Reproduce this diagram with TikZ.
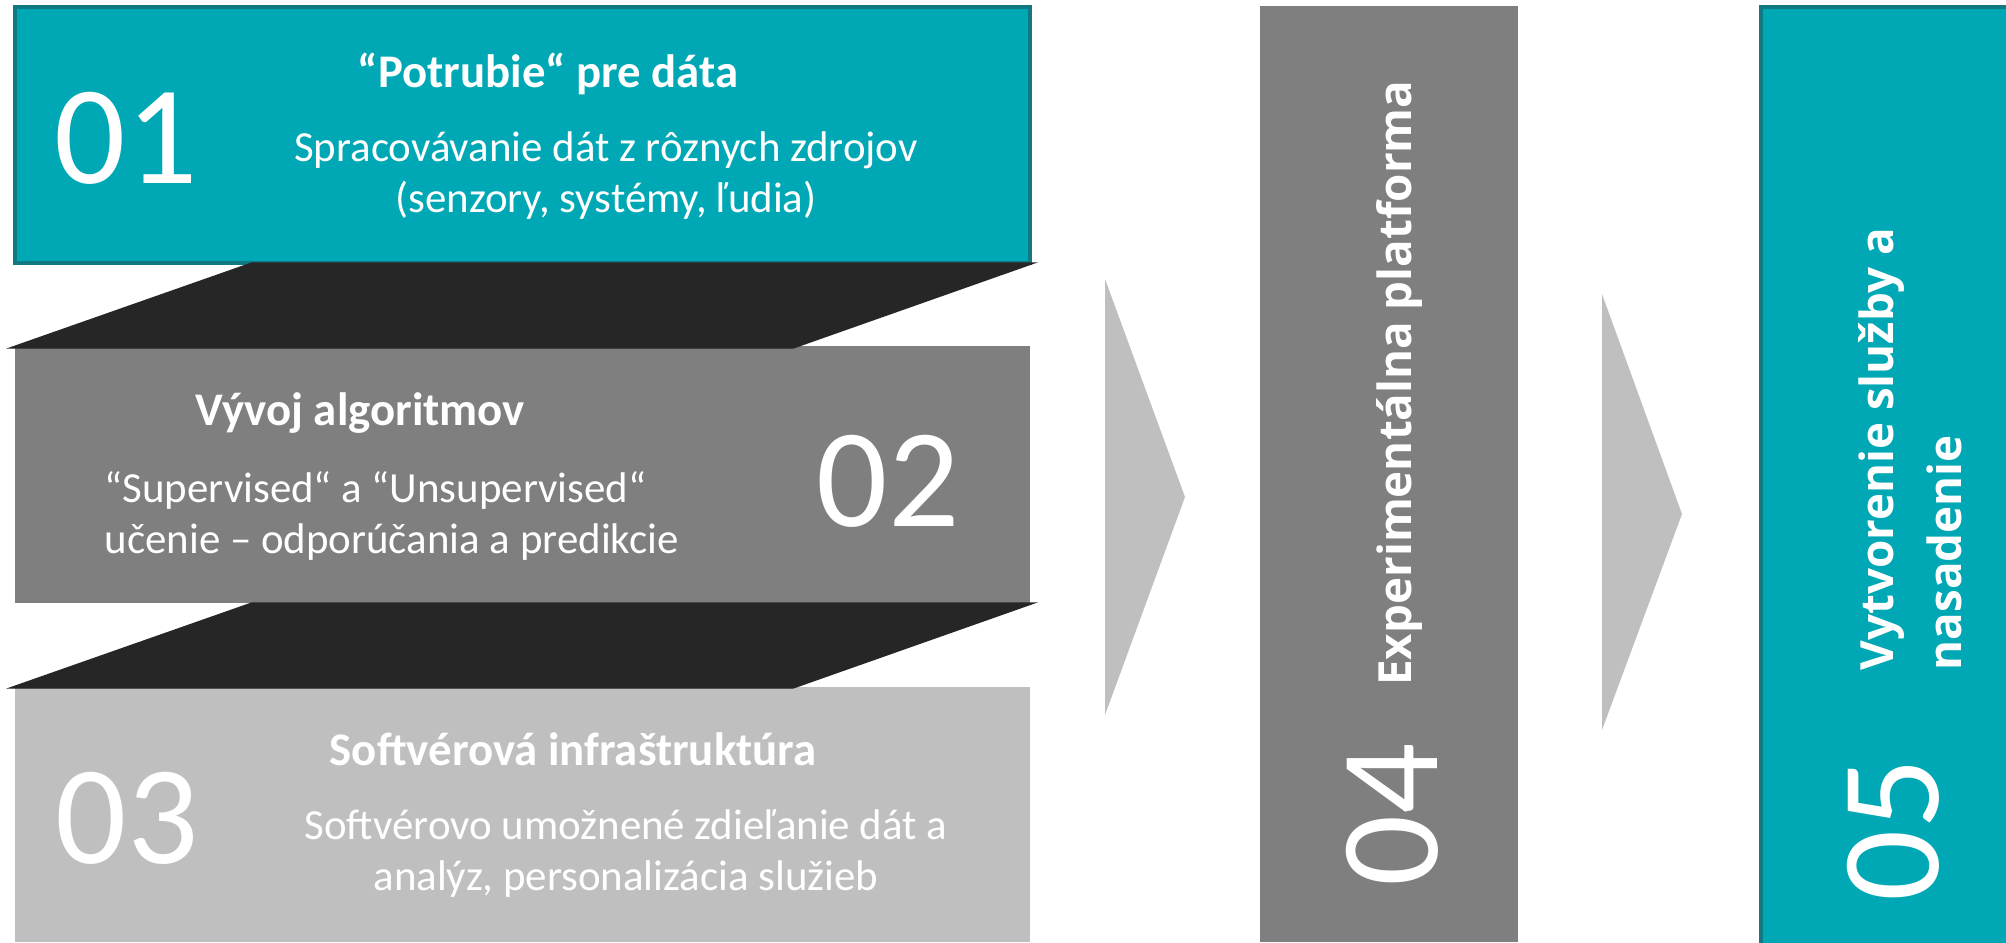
\documentclass[tikz,border=0pt]{standalone}
\usepackage{fontspec}
\setmainfont{Carlito}
\newfontfamily\colfont{Open Sans}
\usepackage{tikz}
\definecolor{tealbox}{RGB}{0,168,181}
\definecolor{tealline}{RGB}{18,120,130}
\definecolor{midgray}{RGB}{127,127,127}
\definecolor{lightgray}{RGB}{191,191,191}
\definecolor{darkslab}{RGB}{38,38,38}

\begin{document}
\begin{tikzpicture}[x=0.01cm,y=-0.01cm,
  num/.style={text=white,inner sep=0,anchor=base,font=\fontsize{40}{40}\selectfont},
  head/.style={text=white,inner sep=0,anchor=base,font=\fontsize{13.3}{15}\selectfont\bfseries},
  body/.style={text=white,inner sep=0,font=\fontsize{12.2}{14.5}\selectfont},
  vert/.style={text=white,inner sep=0,rotate=90,font=\colfont\fontsize{13}{19.5}\selectfont\bfseries},
  slab/.style={fill=darkslab,draw=darkslab},
  chevron/.style={fill=lightgray}]
  \useasboundingbox (0,0) rectangle (2006,942);
  \fill[lightgray] (15,687) rectangle (1030,942);
  \fill[midgray] (15,346) rectangle (1030,603);
  \filldraw[fill=tealbox,draw=tealline,line width=1pt] (15,7) rectangle (1030,263);
  \fill[slab] (252,263) -- (1034,263) -- (793,348) -- (10,348) -- cycle;
  \fill[slab] (252,603) -- (1034,603) -- (793,688) -- (10,688) -- cycle;
  \fill[chevron] (1105,279) -- (1185,497) -- (1105,715) -- cycle;
  \fill[midgray] (1260,6) rectangle (1518,942);
  \fill[chevron] (1602,294) -- (1682,514) -- (1602,730) -- cycle;
  \filldraw[fill=tealbox,draw=tealline,line width=1pt] (1761,7) rectangle (2012,948);

  \node[num] (n01) at (126,183) {01};
  \node[head] (h01) at (548,87) {“Potrubie“ pre dáta};
  \node[body,align=center] (b01) at (606,176) {Spracovávanie dát z rôznych zdrojov\\(senzory, systémy, ľudia)};

  \node[head] (h02) at (360,425) {Vývoj algoritmov};
  \node[body,align=left,anchor=west] (b02) at (104,516) {“Supervised“ a “Unsupervised“\\učenie – odporúčania a predikcie};
  \node[num] (n02) at (888,526) {02};

  \node[num] (n03) at (127,863) {03};
  \node[head] (h03) at (573,765) {Softvérová infraštruktúra};
  \node[body,align=center] (b03) at (626,854) {Softvérovo umožnené zdieľanie dát a\\analýz, personalizácia služieb};

  \node[vert,anchor=base] (h04) at (1411,383) {Experimentálna platforma};
  \node[num,rotate=90] (n04) at (1437,815) {04};

  \node[vert,align=left,anchor=west] (h05) at (1910,671) {Vytvorenie služby a\\nasadenie};
  \node[num,rotate=90] (n05) at (1938,830) {05};
\end{tikzpicture}
\end{document}
